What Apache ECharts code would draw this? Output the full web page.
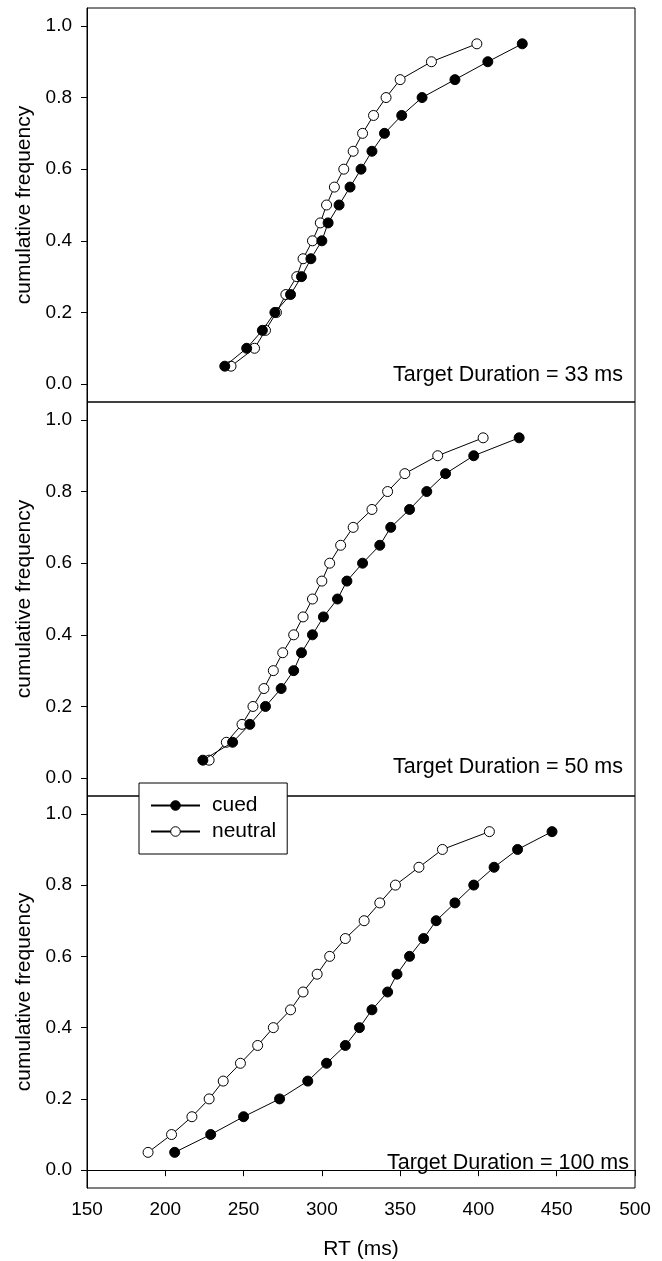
<!DOCTYPE html>
<html>
<head>
<meta charset="utf-8">
<title>cumulative RT</title>
<script src="https://cdn.jsdelivr.net/npm/echarts@6/dist/echarts.min.js"></script>
<style>
	body { margin:0; background:#fff; }
	#main { width:662px; height:1261px; }
</style>
</head>
<body>
<div id="main"></div>
<script>
//cumulative frequency levels (same for every curve)
var freq = [0.05,0.10,0.15,0.20,0.25,0.30,0.35,0.40,0.45,0.50,0.55,0.60,0.65,0.70,0.75,0.80,0.85,0.90,0.95];

//RT (ms) at each level, 33 ms
var cued33    = [238,252,262,270,280,287,293,300,304,311,318,325,332,340,351,364,385,406,428];
var neutral33 = [242,257,264,271,277,284,288,294,299,303,308,314,320,326,333,341,350,370,399];

//50 ms
var cued50    = [224,243,254,264,274,282,287,294,301,310,316,326,337,344,356,367,379,397,426];
var neutral50 = [228,239,249,256,263,269,275,282,288,294,300,305,312,320,332,342,353,374,403];

//100 ms
var cued100    = [206,229,250,273,291,303,315,324,332,342,348,356,365,373,385,397,410,425,447];
var neutral100 = [189,204,217,228,237,248,259,269,280,288,297,305,315,327,337,347,362,377,407];

var panelTitles = ['Target Duration = 33 ms','Target Duration = 50 ms','Target Duration = 100 ms'];
var xTicks = [150,200,250,300,350,400,450,500];
var yTicks = [0.0,0.2,0.4,0.6,0.8,1.0];

var FONT = '"Liberation Sans", Arial, sans-serif';

//pair RT values with the frequency levels
function pairs( rt )
{
	var out = [];
	for (var i = 0; i < rt.length; i++) {
		out.push([rt[i], freq[i]]);
	}
	return out;
}

function makeSeries( name, rt, idx, filled )
{
	return {
		name: name,
		type: 'line',
		xAxisIndex: idx,
		yAxisIndex: idx,
		data: pairs(rt),
		symbol: 'circle',
		symbolSize: 10,
		lineStyle: { color:'#000', width:1 },
		itemStyle: {
			color: filled ? '#000' : '#fff',
			borderColor: '#000',
			borderWidth: 1
		},
		emphasis: { disabled:true },
		z: filled ? 3 : 2
	};
}

var tops = [8, 402, 796];
var heights = [394, 394, 393];
var textY = [375, 767, 1163];
var textRight = [623, 623, 629];

var grids = [], xAxes = [], yAxes = [], graphics = [];
for (var p = 0; p < 3; p++) {
	grids.push({
		left: 87, width: 548, top: tops[p], height: heights[p],
		show: true, borderColor: '#000', borderWidth: 1, backgroundColor: 'transparent'
	});
	var last = (p == 2);
	xAxes.push({
		type: 'value', gridIndex: p, min: 150, max: 500, interval: 50,
		show: last,
		name: last ? 'RT (ms)' : '',
		nameLocation: 'middle', nameGap: 51,
		nameTextStyle: { fontSize:21, color:'#000', fontFamily:FONT },
		axisLine: { lineStyle:{ color:'#000', width:1 } },
		axisTick: { show:true, length:6, lineStyle:{ color:'#000' }, customValues: xTicks },
		axisLabel: { fontSize:19, color:'#000', fontFamily:FONT, margin:12, customValues: xTicks },
		splitLine: { show:false }
	});
	yAxes.push({
		type: 'value', gridIndex: p, min: -0.05, max: 1.05,
		name: 'cumulative frequency',
		nameLocation: 'middle', nameGap: 52,
		nameTextStyle: { fontSize:21, color:'#000', fontFamily:FONT },
		axisLine: { show:true, lineStyle:{ color:'#000', width:1 } },
		axisTick: { show:true, length:6, lineStyle:{ color:'#000' }, customValues: yTicks },
		axisLabel: {
			fontSize:19, color:'#000', fontFamily:FONT, margin:15,
			customValues: yTicks,
			formatter: function (v) { return v.toFixed(1); }
		},
		splitLine: { show:false }
	});
	graphics.push({
		type: 'text', right: 662 - textRight[p], top: textY[p] - 11, z: 10,
		style: { text: panelTitles[p], font: '21.5px ' + FONT, fill: '#000' }
	});
}

var myChart = echarts.init(document.getElementById('main'), null, { renderer:'canvas' });

var option = {
	animation: false,
	backgroundColor: '#fff',
	grid: grids,
	xAxis: xAxes,
	yAxis: yAxes,
	legend: {
		orient: 'vertical',
		left: 139, top: 783,
		padding: [12, 11, 12, 11],
		itemWidth: 49, itemHeight: 12, itemGap: 5,
		borderColor: '#000', borderWidth: 1, backgroundColor: '#fff',
		z: 20,
		textStyle: { fontSize:21, lineHeight:21, color:'#000', fontFamily:FONT, padding:[0,0,0,7] },
		data: [
			{ name:'cued', itemStyle:{ color:'#000', borderColor:'#000', borderWidth:1 } },
			{ name:'neutral', itemStyle:{ color:'#fff', borderColor:'#000', borderWidth:1 } }
		]
	},
	graphic: graphics,
	series: [
		makeSeries('cued', cued33, 0, true),
		makeSeries('neutral', neutral33, 0, false),
		makeSeries('cued', cued50, 1, true),
		makeSeries('neutral', neutral50, 1, false),
		makeSeries('cued', cued100, 2, true),
		makeSeries('neutral', neutral100, 2, false)
	]
};

myChart.setOption(option);
</script>
</body>
</html>
